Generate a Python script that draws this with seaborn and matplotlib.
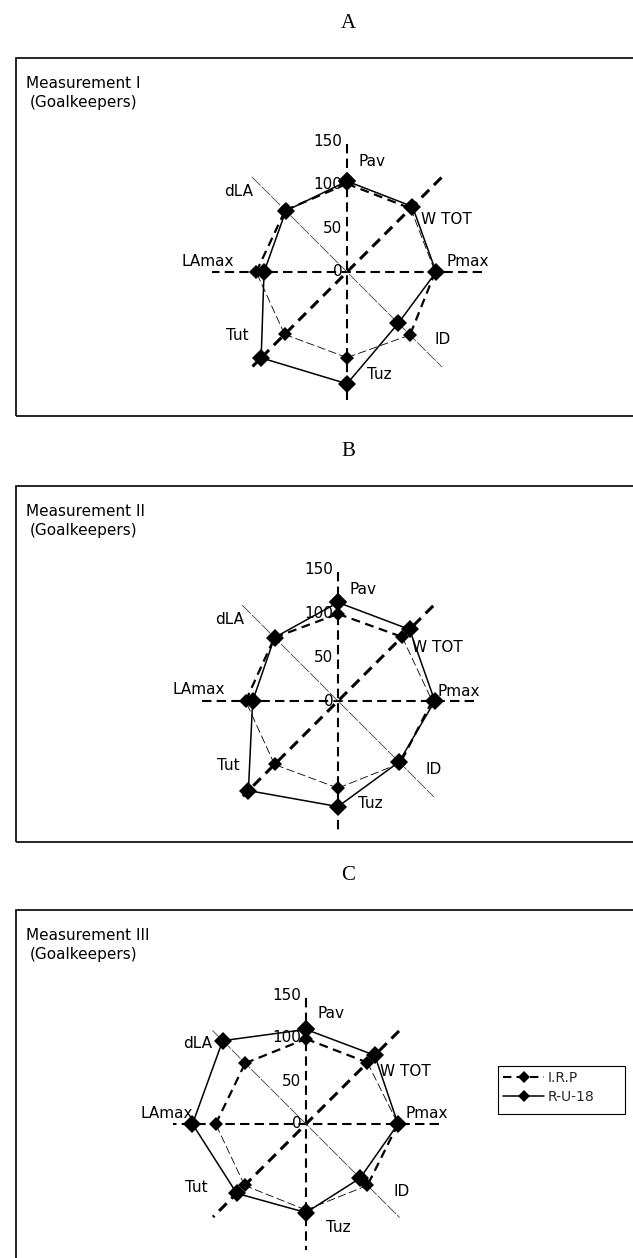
import numpy as np
import matplotlib
matplotlib.use("Agg")
import matplotlib.pyplot as plt
import seaborn as sns
from matplotlib.patches import Rectangle
from matplotlib.lines import Line2D

# ---- data -------------------------------------------------------------
categories = ["Pav", "W TOT", "Pmax", "ID", "Tuz", "Tut", "LAmax", "dLA"]
radial_ticks = [0, 50, 100, 150]

irp_m1 = [101, 103, 101, 102, 98, 101, 104, 100]
ru18_m1 = [104, 106, 102, 83, 128, 139, 95, 99]

irp_m2 = [99, 103, 107, 100, 99, 102, 105, 102]
ru18_m2 = [112, 115, 110, 98, 120, 144, 97, 102]

irp_m3 = [99, 101, 107, 101, 100, 101, 105, 100]
ru18_m3 = [110, 113, 107, 89, 103, 114, 132, 137]

panel_letters = ["A", "B", "C"]
panel_titles = ["Measurement I", "Measurement II", "Measurement III"]
group_label = "(Goalkeepers)"
series_names = ["I.R.P", "R-U-18"]

# ---- layout (pixels) --------------------------------------------------
W, H = 633, 1258
panels = [
    dict(box=(58, 416), center=(347, 272), rad=131, letter_y=23),
    dict(box=(486, 842), center=(338, 701), rad=132, letter_y=451),
    dict(box=(910, 1275), center=(306, 1124), rad=129, letter_y=876),
]
irp_series = [irp_m1, irp_m2, irp_m3]
ru_series = [ru18_m1, ru18_m2, ru18_m3]

# label offsets from the chart centre, in pixels (right, up)
label_offsets = {
    "Pav": (25, 111), "W TOT": (99, 53), "Pmax": (121, 10), "ID": (96, -68),
    "Tuz": (32, -103), "Tut": (-110, -64), "LAmax": (-139, 11), "dLA": (-108, 81),
}
# I.R.P segments drawn heavy; the rest are drawn with a fine dash
heavy_segments = {0, 2, 6, 7}

sns.set_theme(style="white")
plt.rcParams["font.family"] = ["DejaVu Sans"]

fig = plt.figure(figsize=(W / 100, H / 100), dpi=100)
fig.patch.set_facecolor("white")


def fx(px):
    return px / W


def fy(py):
    return 1 - py / H


n = len(categories)
theta = np.arange(n) * 2 * np.pi / n
theta_closed = np.append(theta, 2 * np.pi)

for k, p in enumerate(panels):
    top, bottom = p["box"]
    cx, cy = p["center"]
    rad = p["rad"]

    # frame around the panel (open to the right)
    fig.add_artist(Rectangle((fx(16), fy(bottom)), fx(W + 30 - 16), (bottom - top) / H,
                             transform=fig.transFigure, fill=False, lw=1.2,
                             ec="black", clip_on=False))
    fig.text(fx(348), fy(p["letter_y"]), panel_letters[k], ha="center", va="center",
             family=["Liberation Serif"], fontsize=15, color="black")
    fig.text(fx(26), fy(top + 25), panel_titles[k], ha="left", va="center",
             fontsize=11, color="black")
    fig.text(fx(30), fy(top + 44), group_label, ha="left", va="center",
             fontsize=11, color="black")

    ax = fig.add_axes([fx(cx - rad), fy(cy + rad), 2 * rad / W, 2 * rad / H],
                      projection="polar")
    ax.set_theta_offset(np.pi / 2)
    ax.set_theta_direction(-1)

    # spokes
    ax.plot([0, 0, np.pi], [147, 0, 147], color="black", lw=1.5,
            linestyle=(0, (4.5, 2.5)), clip_on=False, zorder=1)
    ax.plot([np.pi / 2, np.pi / 2, 3 * np.pi / 2], [155, 0, 155], color="black", lw=1.5,
            linestyle=(0, (4.5, 2.5)), clip_on=False, zorder=1)
    ax.plot([np.pi / 4, np.pi / 4, 5 * np.pi / 4], [153, 0, 153], color="black", lw=2.2,
            linestyle=(0, (3.5, 2.2)), clip_on=False, zorder=1)
    ax.plot([7 * np.pi / 4, 7 * np.pi / 4, 3 * np.pi / 4], [154, 0, 154], color="#333333",
            lw=0.55, linestyle=(0, (16, 2)), clip_on=False, zorder=1)

    # I.R.P series
    irp = np.array(irp_series[k], dtype=float)
    irp_closed = np.append(irp, irp[0])
    for i in range(n):
        heavy = i in heavy_segments
        sns.lineplot(x=theta_closed[i:i + 2], y=irp_closed[i:i + 2], ax=ax, sort=False,
                     estimator=None, color="black", lw=1.6 if heavy else 0.6,
                     linestyle=(0, (4, 2.5)) if heavy else (0, (10, 4)),
                     legend=False, zorder=3)
    sns.lineplot(x=theta, y=irp, ax=ax, sort=False, estimator=None, color="black",
                 lw=0, marker="D", markersize=7.5, markeredgewidth=0,
                 legend=False, zorder=4)

    # R-U-18 series
    ru = np.array(ru_series[k], dtype=float)
    ru_closed = np.append(ru, ru[0])
    sns.lineplot(x=theta_closed, y=ru_closed, ax=ax, sort=False, estimator=None,
                 color="black", lw=1.1, marker="D", markersize=9,
                 markeredgewidth=0, legend=False, zorder=5)

    for line in ax.lines:
        line.set_clip_on(False)

    ax.set_xlim(0, 2 * np.pi)
    ax.set_ylim(0, 150)
    ax.set_axis_off()

    # radial values along the vertical axis
    for v in radial_ticks:
        ax.annotate(str(v), xy=(0, v), xytext=(-3.5, 0), textcoords="offset points",
                    ha="right", va="center", fontsize=11, color="black",
                    annotation_clip=False, zorder=6)

    # category labels
    for name in categories:
        dx, dy = label_offsets[name]
        ax.text(0.5 + dx / (2 * rad), 0.5 + dy / (2 * rad), name, transform=ax.transAxes,
                ha="center", va="center", fontsize=11, color="black", clip_on=False)

# legend in the last panel
handles = [
    Line2D([], [], color="black", lw=1.5, linestyle=(0, (4, 2.5)), marker="D",
           markersize=6.5, markeredgewidth=0),
    Line2D([], [], color="black", lw=1.1, marker="D", markersize=6.5, markeredgewidth=0),
]
fig.add_artist(Rectangle((fx(498), fy(1114)), fx(625 - 498), (1114 - 1066) / H,
                         transform=fig.transFigure, fill=False, lw=0.8, ec="black"))
fig.legend(handles, series_names, loc="upper left",
           bbox_to_anchor=(fx(500), fy(1068)), frameon=False, borderaxespad=0,
           handlelength=3.0, handletextpad=0.2, fontsize=10, borderpad=0.2,
           labelspacing=0.35)

fig.savefig("out.png", dpi=100, facecolor="white")
